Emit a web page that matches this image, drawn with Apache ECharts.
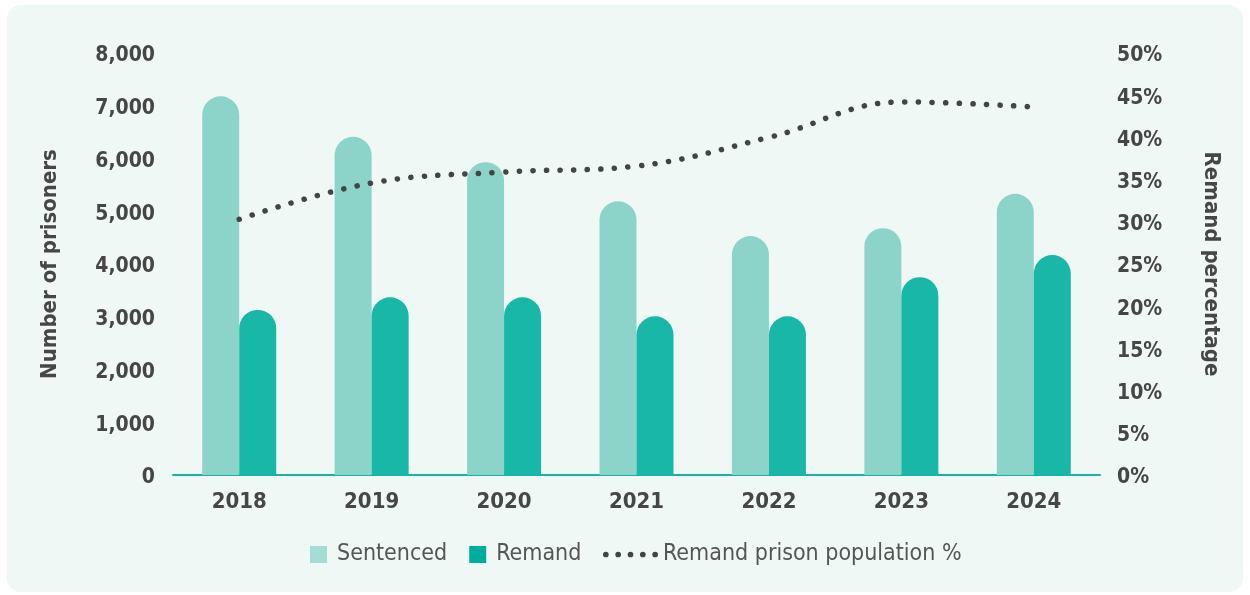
<!DOCTYPE html>
<html>
<head>
<meta charset="utf-8">
<script src="https://cdn.jsdelivr.net/npm/echarts@6/dist/echarts.min.js"></script>
<style>
  html, body { margin: 0; padding: 0; background: #fff; }
  #chart { width: 1250px; height: 595px; }
</style>
</head>
<body>
<div id="chart"></div>
<script>
// 数据
const years = ['2018', '2019', '2020', '2021', '2022', '2023', '2024'];
const sentenced = [7180, 6410, 5930, 5190, 4530, 4680, 5330];
const remand = [3130, 3370, 3370, 3010, 3010, 3750, 4170];
const remandPct = [30.3, 34.6, 35.9, 36.6, 40.0, 44.2, 43.6];

const FONT = "'DejaVu Sans Condensed', 'DejaVu Sans', sans-serif";
const labelStyle = {
    color: '#464646',
    fontFamily: FONT,
    fontWeight: 'bold',
    fontSize: 21
};
// 轴标签稍微下移几个像素
const tickRich = {
    v: Object.assign({ padding: [6, 0, 0, 0] }, labelStyle)
};

const myChart = echarts.init(document.getElementById('chart'));

const option = {
    backgroundColor: '#ffffff',
    animation: false,
    graphic: [{
        type: 'rect',
        z: -10,
        shape: { x: 7, y: 5, width: 1236, height: 587, r: 14 },
        style: { fill: '#eff8f5' }
    }],
    grid: {
        left: 173,
        right: 150,
        top: 53,
        bottom: 120
    },
    legend: [
        {
            left: 305,
            top: 538,
            itemWidth: 17,
            itemHeight: 17,
            itemGap: 22,
            icon: 'rect',
            textStyle: {
                color: '#555',
                fontFamily: FONT,
                fontSize: 23,
                padding: [0, 0, 0, 5]
            },
            data: [
                { name: 'Sentenced', itemStyle: { color: '#a6dcd6' } },
                { name: 'Remand', itemStyle: { color: '#00ad9d' } }
            ]
        },
        {
            left: 598,
            top: 538,
            itemWidth: 55,
            itemHeight: 6,
            textStyle: {
                color: '#555',
                fontFamily: FONT,
                fontSize: 23,
                padding: [0, 0, 0, 0]
            },
            data: [{
                name: 'Remand prison population %',
                icon: 'path://M0,3a3,3 0 1,0 6,0a3,3 0 1,0 -6,0M13,3a3,3 0 1,0 6,0a3,3 0 1,0 -6,0M26,3a3,3 0 1,0 6,0a3,3 0 1,0 -6,0M39,3a3,3 0 1,0 6,0a3,3 0 1,0 -6,0M52,3a3,3 0 1,0 6,0a3,3 0 1,0 -6,0',
                itemStyle: { color: '#444' }
            }]
        }
    ],
    xAxis: {
        type: 'category',
        data: years,
        boundaryGap: true,
        axisLine: { lineStyle: { color: '#17b3a3', width: 2 } },
        axisTick: { inside: true, length: 6, lineStyle: { color: '#17b3a3', width: 2 } },
        axisLabel: Object.assign({ margin: 16 }, labelStyle, { fontSize: 22 })
    },
    yAxis: [
        {
            type: 'value',
            min: 0,
            max: 8000,
            interval: 1000,
            name: 'Number of prisoners',
            nameLocation: 'middle',
            nameGap: 112,
            nameTextStyle: Object.assign({}, labelStyle, { fontSize: 22 }),
            axisLine: { show: false },
            axisTick: { show: false },
            splitLine: { show: false },
            axisLabel: Object.assign({
                margin: 18,
                formatter: v => '{v|' + v.toLocaleString('en-US') + '}',
                rich: tickRich
            }, labelStyle)
        },
        {
            type: 'value',
            min: 0,
            max: 50,
            interval: 5,
            name: 'Remand percentage',
            nameLocation: 'middle',
            nameRotate: -90,
            nameGap: 100,
            nameTextStyle: Object.assign({}, labelStyle, { fontSize: 22 }),
            axisLine: { show: false },
            axisTick: { show: false },
            splitLine: { show: false },
            axisLabel: Object.assign({
                margin: 17,
                formatter: '{v|{value}%}',
                rich: tickRich
            }, labelStyle)
        }
    ],
    series: [
        {
            name: 'Sentenced',
            type: 'bar',
            data: sentenced,
            barWidth: 37,
            barGap: 0,
            itemStyle: { color: '#8cd3ca', borderRadius: [19, 19, 0, 0] }
        },
        {
            name: 'Remand',
            type: 'bar',
            data: remand,
            barWidth: 37,
            itemStyle: { color: '#19b7a8', borderRadius: [19, 19, 0, 0] }
        },
        {
            name: 'Remand prison population %',
            type: 'line',
            yAxisIndex: 1,
            data: remandPct,
            smooth: 0.4,
            symbol: 'none',
            z: 5,
            itemStyle: { color: '#444' },
            lineStyle: {
                color: '#444',
                width: 5.5,
                type: [0.1, 13.5],
                cap: 'round'
            }
        }
    ]
};

myChart.setOption(option);
</script>
</body>
</html>
